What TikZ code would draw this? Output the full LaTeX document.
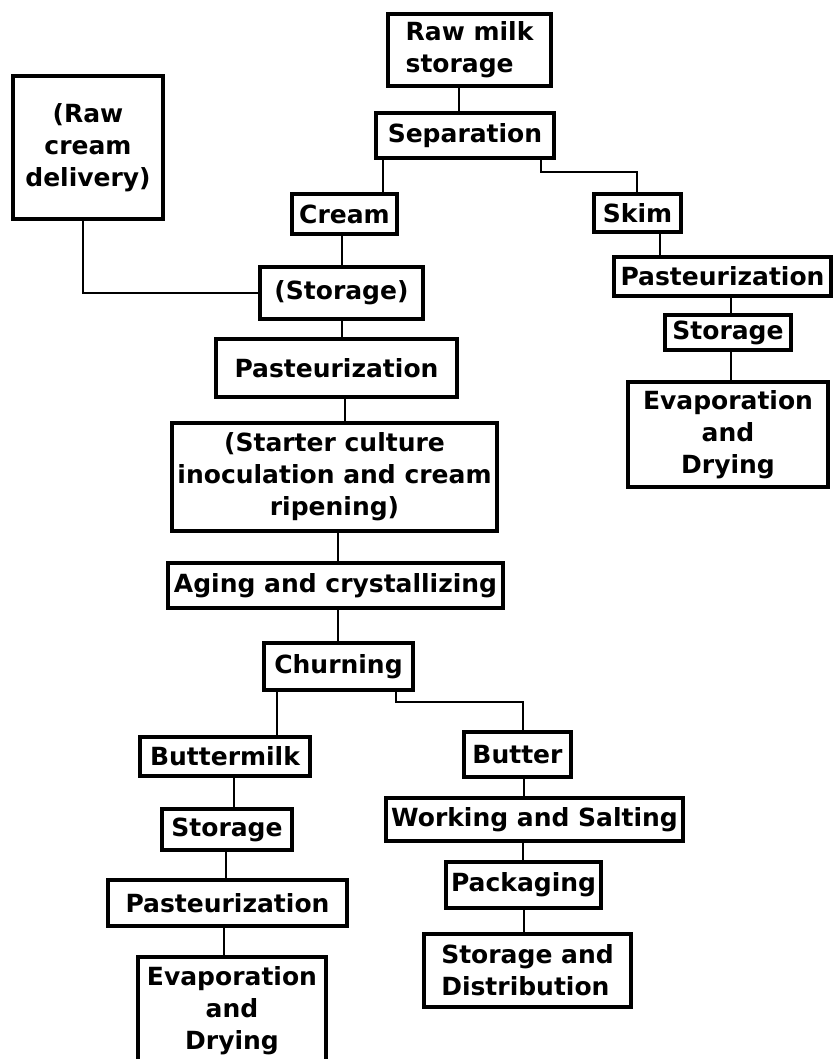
\documentclass[tikz,border=0pt]{standalone}
\usepackage{fontspec}
\setmainfont{DejaVu Sans}
\begin{document}
\begin{tikzpicture}[x=1pt,y=-1pt,
  box/.style={draw, line width=3.3pt, inner sep=0pt, align=center,
    font=\fontsize{25}{32}\selectfont\bfseries},
  link/.style={line width=1.4pt}]
\useasboundingbox (0,0) rectangle (834,1059);
\clip (0,0) rectangle (834,1059);
% nodes
\node[box, align=left, minimum width=163, minimum height=72] (rawmilk) at (469.5,50) {Raw milk\\storage};
\node[box, minimum width=178, minimum height=45] (sep) at (465,135.5) {Separation};
\node[box, minimum width=150, minimum height=143] (rawcream) at (88,147.5) {(Raw\\cream\\delivery)};
\node[box, minimum width=105, minimum height=40] (cream) at (344.5,214) {Cream};
\node[box, minimum width=87, minimum height=38] (skim) at (637.5,213) {Skim};
\node[box, minimum width=163, minimum height=52] (stor1) at (341.5,293) {(Storage)};
\node[box, minimum width=217, minimum height=39] (past2) at (722.5,276.5) {Pasteurization};
\node[box, minimum width=126, minimum height=35] (stor2) at (728,332.5) {Storage};
\node[box, minimum width=200, minimum height=105] (evap1) at (728,434.5) {Evaporation\\and\\Drying};
\node[box, minimum width=241, minimum height=58] (past1) at (336.5,368) {Pasteurization};
\node[box, minimum width=325, minimum height=108] (starter) at (334.5,477) {(Starter culture\\inoculation and cream\\ripening)};
\node[box, minimum width=335, minimum height=45] (aging) at (335.5,585.5) {Aging and crystallizing};
\node[box, minimum width=149, minimum height=47] (churn) at (338.5,666.5) {Churning};
\node[box, minimum width=170, minimum height=39] (bmilk) at (225,756.5) {Buttermilk};
\node[box, minimum width=107, minimum height=45] (butter) at (517.5,754.5) {Butter};
\node[box, minimum width=130, minimum height=41] (stor3) at (227,829.5) {Storage};
\node[box, minimum width=297, minimum height=43] (work) at (534.5,819.5) {Working and Salting};
\node[box, minimum width=239, minimum height=46] (past3) at (227.5,903) {Pasteurization};
\node[box, minimum width=155, minimum height=46] (pack) at (523.5,885) {Packaging};
\node[box, align=left, minimum width=207, minimum height=73] (stordist) at (527.5,970.5) {Storage and\\Distribution};
\node[box, minimum width=188, minimum height=107] (evap2) at (232,1010.5) {Evaporation\\and\\Drying};
% connectors
\draw[link] (rawmilk.south -| 459,0) -- (sep.north -| 459,0);
\draw[link] (sep.south -| 383,0) -- (cream.north -| 383,0);
\draw[link] (sep.south -| 541,0) |- (637,172) -- (skim.north -| 637,0);
\draw[link] (rawcream.south -| 83,0) |- (stor1.west);
\draw[link] (cream.south -| 342,0) -- (stor1.north -| 342,0);
\draw[link] (stor1.south -| 342,0) -- (past1.north -| 342,0);
\draw[link] (past1.south -| 345,0) -- (starter.north -| 345,0);
\draw[link] (starter.south -| 338,0) -- (aging.north -| 338,0);
\draw[link] (aging.south -| 338,0) -- (churn.north -| 338,0);
\draw[link] (churn.south -| 277,0) -- (bmilk.north -| 277,0);
\draw[link] (churn.south -| 396,0) |- (523,702) -- (butter.north -| 523,0);
\draw[link] (bmilk.south -| 234,0) -- (stor3.north -| 234,0);
\draw[link] (stor3.south -| 226,0) -- (past3.north -| 226,0);
\draw[link] (past3.south -| 224,0) -- (evap2.north -| 224,0);
\draw[link] (butter.south -| 524,0) -- (work.north -| 524,0);
\draw[link] (work.south -| 523,0) -- (pack.north -| 523,0);
\draw[link] (pack.south -| 524,0) -- (stordist.north -| 524,0);
\draw[link] (skim.south -| 660,0) -- (past2.north -| 660,0);
\draw[link] (past2.south -| 731,0) -- (stor2.north -| 731,0);
\draw[link] (stor2.south -| 731,0) -- (evap1.north -| 731,0);
\end{tikzpicture}
\end{document}
